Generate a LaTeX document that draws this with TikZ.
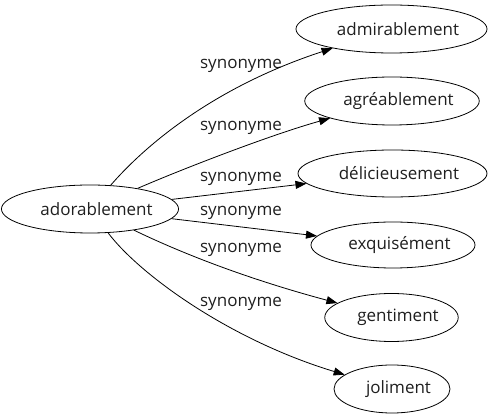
\documentclass[tikz,border=0pt]{standalone}
\usepackage{fontspec}
\setmainfont{Open Sans}
\usetikzlibrary{shapes.geometric,arrows.meta}
\newcommand{\wtxt}[1]{\hspace*{13pt}#1}
\tikzset{
  word/.style={ellipse, draw, line width=0.8pt, inner sep=0pt, font=\fontsize{17}{20}\selectfont, text=black!88},
  rel/.style={font=\fontsize{17}{20}\selectfont, text=black!88, inner sep=0pt},
  link/.style={line width=0.8pt, -{Triangle[length=11pt,width=8pt]}}
}
\begin{document}
\begin{tikzpicture}[x=1pt,y=-1pt]
\useasboundingbox (0,0) rectangle (491,419);
\node[word, minimum width=170pt, minimum height=48pt] (a) at (90,209) {\wtxt{adorablement}};
\node[word, minimum width=183pt, minimum height=48pt] (b1) at (391.5,29) {\wtxt{admirablement}};
\node[word, minimum width=172pt, minimum height=48pt] (b2) at (392,101) {\wtxt{agréablement}};
\node[word, minimum width=189pt, minimum height=47pt] (b3) at (392.5,173.5) {\wtxt{délicieusement}};
\node[word, minimum width=164pt, minimum height=46pt] (b4) at (393,245) {\wtxt{exquisément}};
\node[word, minimum width=133pt, minimum height=48pt] (b5) at (391.5,317.5) {\wtxt{gentiment}};
\node[word, minimum width=116pt, minimum height=48pt] (b6) at (392,389) {\wtxt{joliment}};
\node[rel] (l1) at (241,66) {synonyme};
\node[rel] (l2) at (241,128) {synonyme};
\node[rel] (l3) at (241,179) {synonyme};
\node[rel] (l4) at (241,213) {synonyme};
\node[rel] (l5) at (241,250) {synonyme};
\node[rel] (l6) at (241,304) {synonyme};
\draw[link] (a) .. controls (150,140) and (220,85) .. (b1);
\draw[link] (a) .. controls (180,170) and (270,135) .. (b2);
\draw[link] (a) -- (b3);
\draw[link] (a) -- (b4);
\draw[link] (a) .. controls (200,262) and (270,285) .. (b5);
\draw[link] (a) .. controls (140,275) and (230,340) .. (b6);
\end{tikzpicture}
\end{document}
